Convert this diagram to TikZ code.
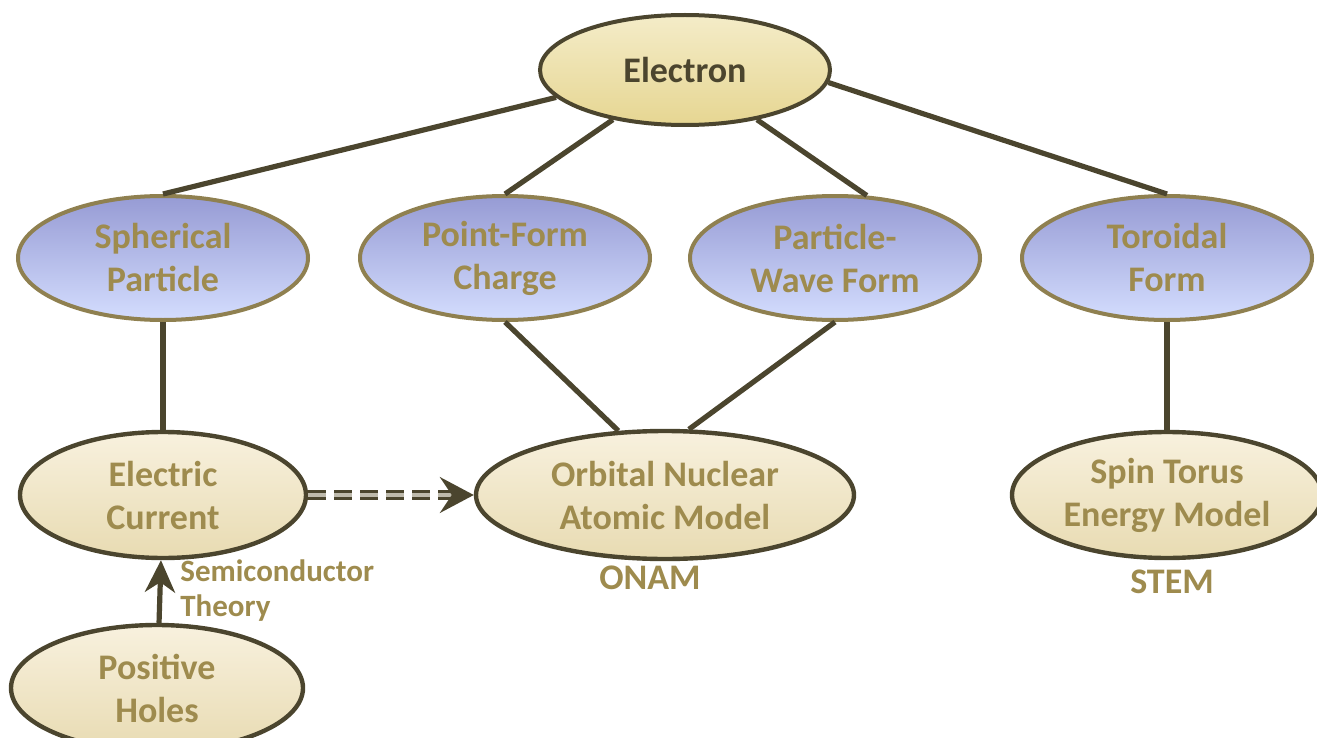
\documentclass[tikz,border=0pt]{standalone}
\usepackage{fontspec}
\setmainfont{Carlito}
\usetikzlibrary{shapes.geometric,arrows.meta}
\definecolor{linkbrown}{RGB}{75,69,46}
\definecolor{oliveline}{RGB}{143,128,80}
\definecolor{goldtext}{RGB}{158,139,78}
\definecolor{lightdash}{RGB}{190,186,172}

\begin{document}
\begin{tikzpicture}[x=0.5pt,y=-0.5pt,
    every node/.style={ellipse,inner sep=0pt,align=center,text=goldtext,
      font=\bfseries\fontsize{18}{21.5}\selectfont},
    rootnode/.style={draw=linkbrown,line width=2pt,text=linkbrown,
      minimum width=145pt,minimum height=55pt,
      top color={rgb,255:red,244;green,236;blue,200},
      middle color={rgb,255:red,200;green,166;blue,70},
      bottom color={rgb,255:red,230;green,214;blue,146}},
    formnode/.style={draw=oliveline,line width=2pt,
      minimum width=145pt,minimum height=62pt,
      top color={rgb,255:red,150;green,155;blue,212},
      bottom color={rgb,255:red,212;green,221;blue,254}},
    modelnode/.style={draw=linkbrown,line width=2.2pt,
      minimum width=143pt,minimum height=63pt,
      top color={rgb,255:red,248;green,241;blue,222},
      bottom color={rgb,255:red,232;green,219;blue,178}},
    caption/.style={rectangle,draw=none},
    link/.style={draw=linkbrown,line width=2.6pt},
    dashlink/.style={draw=linkbrown,line width=1.3pt,double=lightdash,
      double distance=2pt,dash pattern=on 9pt off 4pt,
      -{Stealth[length=17pt,width=18pt,inset=6pt]}}]
  \useasboundingbox (0,0) rectangle (1317,738);
  % Raiz
  \node[rootnode] (e) at (685,70) {Electron};
  % Formas del electron
  \node[formnode] (sp) at (163,258)  {Spherical\\Particle};
  \node[formnode] (pf) at (505,258)  {Point-Form\\Charge};
  \node[formnode] (pw) at (835,258)  {Particle-\\Wave Form};
  \node[formnode] (tf) at (1167,258) {Toroidal\\Form};
  % Modelos
  \node[modelnode] (ec) at (163,495) {Electric\\Current};
  \node[modelnode,minimum width=189pt,minimum height=64pt] (onam) at (665,495) {Orbital Nuclear\\Atomic Model};
  \node[modelnode,minimum width=155pt] (st) at (1167,495) {Spin Torus\\Energy Model};
  \node[modelnode,minimum width=146pt] (ph) at (157,688) {Positive\\Holes};
  % Rotulos
  \node[caption] (onamlbl) at (650,578) {ONAM};
  \node[caption] (stemlbl) at (1172,582) {STEM};
  \node[caption,anchor=west,align=left,font=\bfseries\fontsize{15.5}{17.5}\selectfont] (semi) at (180,591) {Semiconductor\\Theory};
  % Aristas
  \draw[link] (e.192) -- (sp.north);
  \draw[link] (e) -- (pf.north);
  \draw[link] (e) -- (pw.63);
  \draw[link] (e.-5) -- (tf.north);
  \draw[link] (sp) -- (ec);
  \draw[link] (tf) -- (st);
  \draw[link] (pf.south) -- (onam.126);
  \draw[link] (pw.south) -- (onam.70);
  \draw[link,-{Stealth[length=16pt,width=15pt,inset=5pt]}] (ph) -- (ec);
  \draw[dashlink] (ec) -- (onam);
\end{tikzpicture}
\end{document}
